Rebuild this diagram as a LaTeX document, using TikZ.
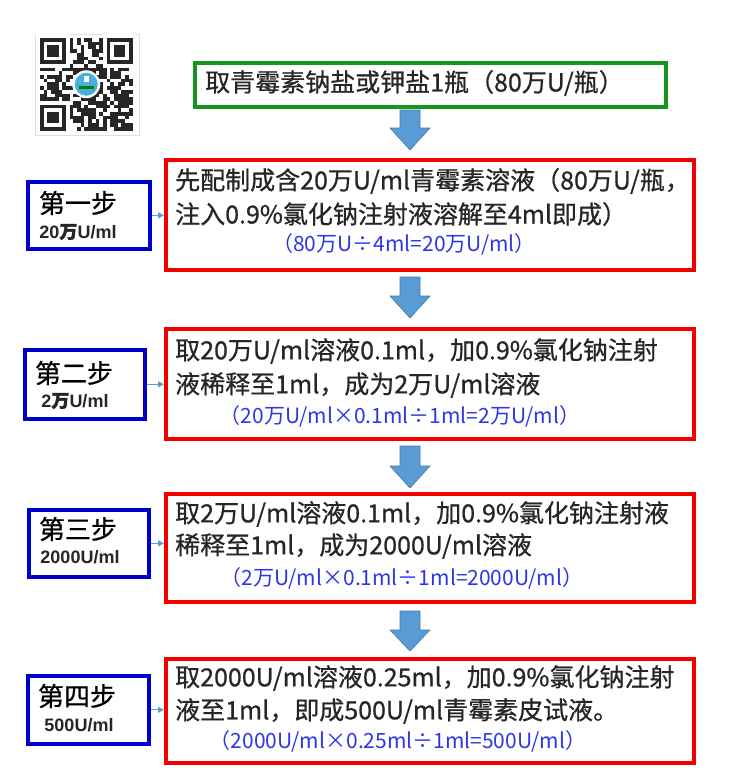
\documentclass[tikz,border=0pt]{standalone}
\usepackage{fontspec}
\newfontfamily\cjk{Noto Sans CJK SC}
\newfontfamily\cjkm[FakeBold=0.7]{Noto Sans CJK SC}
\newfontfamily\cjkfb[FakeBold=2.2]{Noto Sans CJK SC}
\newfontfamily\subfont{Liberation Sans}
\newcommand{\wan}{{\cjkfb 万}}
\usetikzlibrary{arrows.meta}
\definecolor{boxgreen}{RGB}{22,150,30}
\definecolor{boxred}{RGB}{245,0,0}
\definecolor{boxblue}{RGB}{0,0,205}
\definecolor{formblue}{RGB}{45,55,230}
\definecolor{arrowfill}{RGB}{91,155,213}
\definecolor{arrowedge}{RGB}{70,120,170}
\definecolor{maintxt}{RGB}{38,38,38}
\tikzset{
  greenbox/.style={draw=boxgreen, line width=3.6pt, fill=white, anchor=north west, inner sep=0pt},
  redbox/.style={draw=boxred, line width=3.6pt, fill=white, anchor=north west, inner sep=0pt},
  bluebox/.style={draw=boxblue, line width=3.6pt, fill=white, anchor=north west, inner sep=0pt},
  maintext/.style={anchor=west, inner sep=0pt, text=maintxt, font=\cjkm\fontsize{25}{28}\selectfont},
  formtext/.style={anchor=center, inner sep=0pt, text=formblue, font=\cjk\fontsize{21}{24}\selectfont},
  steptitle/.style={anchor=center, inner sep=0pt, text=black, font=\cjkm\fontsize{26}{28}\selectfont},
  stepsub/.style={anchor=center, inner sep=0pt, text=maintxt, font=\subfont\bfseries\fontsize{18}{20}\selectfont},
  bigarrow/.style={fill=arrowfill, draw=arrowedge, line width=0.6pt},
  smallarrow/.style={draw=arrowfill, line width=1.2pt, -{Triangle[length=6pt,width=6pt]}},
}
\begin{document}
\begin{tikzpicture}[x=1pt,y=-1pt]
\useasboundingbox (0,0) rectangle (745,771);
\fill[white] (0,0) rectangle (745,771);

% QR code
\draw[gray!25, line width=1pt] (35,34) rectangle (139,135);
\pgfmathsetseed{11}
\foreach \i in {0,...,24}{\foreach \j in {0,...,24}{
  \pgfmathrandominteger{\r}{0}{9}
  \ifnum\r>3 \fill[black!85] ({40+\i*3.7},{38+\j*3.7}) rectangle ++(3.7,3.7);\fi
}}
\foreach \fx/\fy in {0/0,18/0,0/18}{
  \fill[white] ({40+(\fx-1)*3.7},{38+(\fy-1)*3.7}) rectangle ++(33.3,33.3);
  \fill[black!85] ({40+\fx*3.7},{38+\fy*3.7}) rectangle ++(25.9,25.9);
  \fill[white] ({40+(\fx+1)*3.7},{38+(\fy+1)*3.7}) rectangle ++(18.5,18.5);
  \fill[black!85] ({40+(\fx+2)*3.7},{38+(\fy+2)*3.7}) rectangle ++(11.1,11.1);
}
\fill[white] (86.25,84.25) circle (14);
\fill[arrowfill!80!cyan] (86.25,84.25) circle (11.5);
\fill[white] (84,76) rectangle (89,82);
\fill[green!50!black] (79,86) rectangle (94,89);

% top box
\node[greenbox, minimum width=471pt, minimum height=44pt] (g) at (193,61) {};
\node[maintext] (gt) at (205,83) {取青霉素钠盐或钾盐1瓶（80万U/瓶）};

% big arrows
\filldraw[bigarrow] (400,110) -- (420,110) -- (420,128) -- (430,128) -- (410,150) -- (390,128) -- (400,128) -- cycle;
\filldraw[bigarrow] (400,277) -- (420,277) -- (420,296) -- (430,296) -- (410,318) -- (390,296) -- (400,296) -- cycle;
\filldraw[bigarrow] (400,446) -- (420,446) -- (420,466) -- (430,466) -- (410,488) -- (390,466) -- (400,466) -- cycle;
\filldraw[bigarrow] (400,611) -- (420,611) -- (420,630) -- (430,630) -- (410,651) -- (390,630) -- (400,630) -- cycle;

% step 1
\node[redbox, minimum width=528pt, minimum height=110pt] (b1) at (164,158) {};
\node[maintext] (b1a) at (175,181) {先配制成含20万U/ml青霉素溶液（80万U/瓶，};
\node[maintext] (b1b) at (175,214) {注入0.9\%氯化钠注射液溶解至4ml即成）};
\node[formtext] (b1f) at (404,244) {（80万U÷4ml=20万U/ml）};
\node[bluebox, minimum width=122pt, minimum height=67pt] (s1) at (26,180) {};
\node[steptitle] (s1t) at (78,203) {第一步};
\node[stepsub] (s1u) at (78,232) {20\wan U/ml};
\draw[smallarrow] (s1.east) -- (s1.east -| b1.west);

% step 2
\node[redbox, minimum width=528pt, minimum height=110pt] (b2) at (164,327) {};
\node[maintext] (b2a) at (175,351) {取20万U/ml溶液0.1ml，加0.9\%氯化钠注射};
\node[maintext] (b2b) at (175,385) {液稀释至1ml，成为2万U/ml溶液};
\node[formtext] (b2f) at (400,416) {（20万U/ml×0.1ml÷1ml=2万U/ml）};
\node[bluebox, minimum width=120pt, minimum height=69pt] (s2) at (23,348) {};
\node[steptitle] (s2t) at (74,373) {第二步};
\node[stepsub] (s2u) at (75,401) {2\wan U/ml};
\draw[smallarrow] (s2.east) -- (s2.east -| b2.west);

% step 3
\node[redbox, minimum width=528pt, minimum height=108pt] (b3) at (164,492) {};
\node[maintext] (b3a) at (175,514) {取2万U/ml溶液0.1ml，加0.9\%氯化钠注射液};
\node[maintext] (b3b) at (175,546) {稀释至1ml，成为2000U/ml溶液};
\node[formtext] (b3f) at (402,578) {（2万U/ml×0.1ml÷1ml=2000U/ml）};
\node[bluebox, minimum width=120pt, minimum height=67pt] (s3) at (27,508) {};
\node[steptitle] (s3t) at (78,529) {第三步};
\node[stepsub] (s3u) at (80,557) {2000U/ml};
\draw[smallarrow] (s3.east) -- (s3.east -| b3.west);

% step 4
\node[redbox, minimum width=528pt, minimum height=104pt] (b4) at (164,657) {};
\node[maintext] (b4a) at (175,678) {取2000U/ml溶液0.25ml，加0.9\%氯化钠注射};
\node[maintext] (b4b) at (175,711) {液至1ml，即成500U/ml青霉素皮试液。};
\node[formtext] (b4f) at (398,741) {（2000U/ml×0.25ml÷1ml=500U/ml）};
\node[bluebox, minimum width=121pt, minimum height=68pt] (s4) at (26,674) {};
\node[steptitle] (s4t) at (77,696) {第四步};
\node[stepsub] (s4u) at (79,725) {500U/ml};
\draw[smallarrow] (s4.east) -- (s4.east -| b4.west);
\end{tikzpicture}
\end{document}
